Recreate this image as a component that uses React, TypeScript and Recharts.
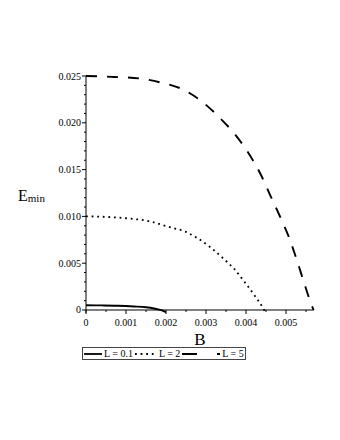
import { Line, LineChart, ReferenceLine, XAxis, YAxis } from 'recharts';

// L = 0.1
const B_L01 = [0, 0.0004, 0.0008, 0.0012, 0.0015, 0.0017, 0.0019, 0.002];
const E_L01 = [0.0005, 0.00049, 0.00046, 0.00038, 0.00029, 0.00016, -0.00005, -0.00024];

// L = 2
const B_L2 = [0, 0.0005, 0.001, 0.00164, 0.00205, 0.00248, 0.00277, 0.00311, 0.00341, 0.0037, 0.00396, 0.0042, 0.00443, 0.00448];
const E_L2 = [0.01, 0.00995, 0.0098, 0.00943, 0.0089, 0.00837, 0.00772, 0.0067, 0.00559, 0.00441, 0.00302, 0.00164, 0.00018, -0.0002];

// L = 5
const B_L5 = [0, 0.0007, 0.00135, 0.0019, 0.00243, 0.00289, 0.00335, 0.00373, 0.00406, 0.00435, 0.0046, 0.00485, 0.00505, 0.00527, 0.00543, 0.00562, 0.00569];
const E_L5 = [0.025, 0.0249, 0.02473, 0.02427, 0.02355, 0.0223, 0.0205, 0.01874, 0.01678, 0.01464, 0.01231, 0.00999, 0.00803, 0.00535, 0.00321, 0.00075, 0];

const SERIES_LABELS = ['L = 0.1', 'L = 2', 'L = 5'];
const X_TICKS = [0, 0.0005, 0.001, 0.0015, 0.002, 0.0025, 0.003, 0.0035, 0.004, 0.0045, 0.005, 0.0055];
const Y_TICKS = Array.from({ length: 26 }, (_, i) => i / 1000);

const FONT = '"Liberation Serif", "Times New Roman", serif';
const DASHES = [undefined, '1.8 3.8', '11 10'];

const toPoints = (bs: number[], es: number[]) => bs.map((b, i) => ({ b, e: es[i] }));
const SERIES = [toPoints(B_L01, E_L01), toPoints(B_L2, E_L2), toPoints(B_L5, E_L5)];

const isStep = (v: number, step: number) => Math.abs(v / step - Math.round(v / step)) < 1e-6;
const fmt = (v: number) => (v === 0 ? '0' : v.toFixed(3));

const YTick = ({ x, y, payload }: any) => {
  const major = isStep(payload.value, 0.005);
  return (
    <g>
      <line x1={x - (major ? 4 : 2)} x2={x} y1={y} y2={y} stroke="#000" />
      {major && (
        <text x={x - 5} y={y} dy={3.5} textAnchor="end" fontSize={10} fontFamily={FONT} fill="#000">
          {fmt(payload.value)}
        </text>
      )}
    </g>
  );
};

// x axis line sits at y = 0, a few px above the bottom of the plot
const XTick = ({ x, y, payload }: any) => {
  const major = isStep(payload.value, 0.001);
  const axisY = y - 2.8;
  return (
    <g>
      <line x1={x} x2={x} y1={axisY} y2={axisY + (major ? 4 : 2)} stroke="#000" />
      {major && (
        <text x={x} y={axisY + 16} textAnchor="middle" fontSize={10} fontFamily={FONT} fill="#000">
          {fmt(payload.value)}
        </text>
      )}
    </g>
  );
};

const SAMPLE_W = [18, 22, 38];

const Legend = () => (
  <div
    style={{
      position: 'absolute',
      left: 82,
      top: 347,
      height: 11,
      border: '1px solid #444',
      display: 'flex',
      alignItems: 'center',
      fontFamily: FONT,
      fontSize: 10,
      lineHeight: '11px',
      paddingRight: 1,
      whiteSpace: 'nowrap',
    }}
  >
    {SERIES_LABELS.map((label, i) => (
      <span key={label} style={{ display: 'flex', alignItems: 'center' }}>
        <svg width={SAMPLE_W[i]} height={6} style={{ marginLeft: i === 0 ? 1 : 2 }}>
          <line x1={0} x2={SAMPLE_W[i]} y1={3} y2={3} stroke="#000" strokeWidth={1.8} strokeDasharray={i === 2 ? '15 20' : DASHES[i]} />
        </svg>
        <span style={{ marginLeft: 2 }}>{label}</span>
      </span>
    ))}
  </div>
);

export default function App() {
  return (
    <div style={{ position: 'absolute', left: 0, top: 0, width: 340, height: 440, background: '#fff' }}>
      <LineChart width={340} height={440} margin={{ top: 76, right: 26, left: 26, bottom: 97.2 }}>
        <XAxis
          dataKey="b"
          type="number"
          domain={[0, 0.0057]}
          ticks={X_TICKS}
          interval={0}
          axisLine={false}
          tickLine={false}
          tickSize={0}
          tickMargin={0}
          tick={<XTick />}
          height={30}
          label={{
            content: ({ viewBox }: any) => (
              <text x={viewBox.x + viewBox.width / 2} y={345} textAnchor="middle" fontSize={17} fontFamily={FONT} fill="#000">
                B
              </text>
            ),
          }}
        />
        <YAxis
          type="number"
          domain={[-0.0003, 0.025]}
          ticks={Y_TICKS}
          interval={0}
          width={60}
          tickLine={false}
          tickSize={0}
          tickMargin={0}
          axisLine={{ stroke: '#000' }}
          tick={<YTick />}
          label={{
            content: () => (
              <text x={18} y={201} fontFamily={FONT} fill="#000">
                <tspan fontSize={16}>E</tspan>
                <tspan fontSize={11} dy={1}>min</tspan>
              </text>
            ),
          }}
        />
        <ReferenceLine y={0} stroke="#000" />
        {SERIES.map((data, i) => (
          <Line
            key={SERIES_LABELS[i]}
            data={data}
            dataKey="e"
            type="monotone"
            stroke="#000"
            strokeWidth={i === 1 ? 1.8 : 1.9}
            strokeDasharray={DASHES[i]}
            dot={false}
            activeDot={false}
            isAnimationActive={false}
            name={SERIES_LABELS[i]}
          />
        ))}
      </LineChart>
      <Legend />
    </div>
  );
}
